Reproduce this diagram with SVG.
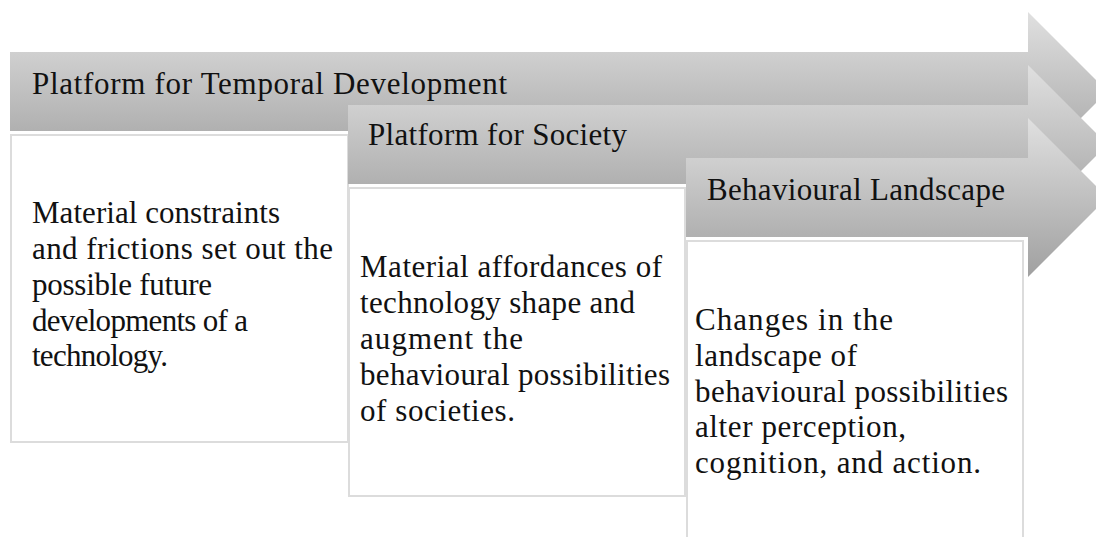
<svg xmlns="http://www.w3.org/2000/svg" width="1096" height="537" viewBox="0 0 1096 537">
<defs>
<linearGradient id="g" x1="0" y1="0" x2="0" y2="1">
<stop offset="0" stop-color="#e0e0e0"/>
<stop offset="1" stop-color="#a0a0a0"/>
</linearGradient>
<style>
.arrow{fill:url(#g);}
.box{fill:#ffffff;stroke:#dcdcdc;stroke-width:2;}
text{font-family:"Liberation Serif","DejaVu Serif",serif;font-size:31px;fill:#111111;}
</style>
</defs>
<rect width="1096" height="537" fill="#ffffff"/>
<g id="stage1">
<polygon class="arrow" points="10,52 1028,52 1028,12 1107.5,91.5 1028,171 1028,131 10,131"/>
<text x="32" y="94" textLength="475" lengthAdjust="spacing">Platform for Temporal Development</text>
<rect class="box" x="11" y="135" width="337" height="307"/>
<text x="32" y="223" textLength="248" lengthAdjust="spacing">Material constraints</text>
<text x="32" y="259" textLength="301" lengthAdjust="spacing">and frictions set out the</text>
<text x="32" y="295" textLength="180" lengthAdjust="spacing">possible future</text>
<text x="32" y="331" textLength="216" lengthAdjust="spacing">developments of a</text>
<text x="32" y="366" textLength="136" lengthAdjust="spacing">technology.</text>
</g>
<g id="stage2">
<polygon class="arrow" points="348,105 1028,105 1028,65 1107.5,144.5 1028,224 1028,184 348,184"/>
<text x="368" y="145" textLength="259" lengthAdjust="spacing">Platform for Society</text>
<rect class="box" x="349" y="188" width="336" height="308"/>
<text x="360" y="277" textLength="302" lengthAdjust="spacing">Material affordances of</text>
<text x="360" y="313" textLength="275" lengthAdjust="spacing">technology shape and</text>
<text x="360" y="349" textLength="163" lengthAdjust="spacing">augment the</text>
<text x="360" y="385" textLength="310" lengthAdjust="spacing">behavioural possibilities</text>
<text x="360" y="421" textLength="155" lengthAdjust="spacing">of societies.</text>
</g>
<g id="stage3">
<polygon class="arrow" points="686,158 1028,158 1028,118 1107.5,197.5 1028,277 1028,237 686,237"/>
<text x="707" y="200" textLength="298" lengthAdjust="spacing">Behavioural Landscape</text>
<rect class="box" x="687" y="241" width="336" height="310"/>
<text x="695" y="330" textLength="198" lengthAdjust="spacing">Changes in the</text>
<text x="695" y="366" textLength="162" lengthAdjust="spacing">landscape of</text>
<text x="695" y="402" textLength="313" lengthAdjust="spacing">behavioural possibilities</text>
<text x="695" y="437" textLength="211" lengthAdjust="spacing">alter perception,</text>
<text x="695" y="473" textLength="286" lengthAdjust="spacing">cognition, and action.</text>
</g>
<g id="connectors"></g>
</svg>
